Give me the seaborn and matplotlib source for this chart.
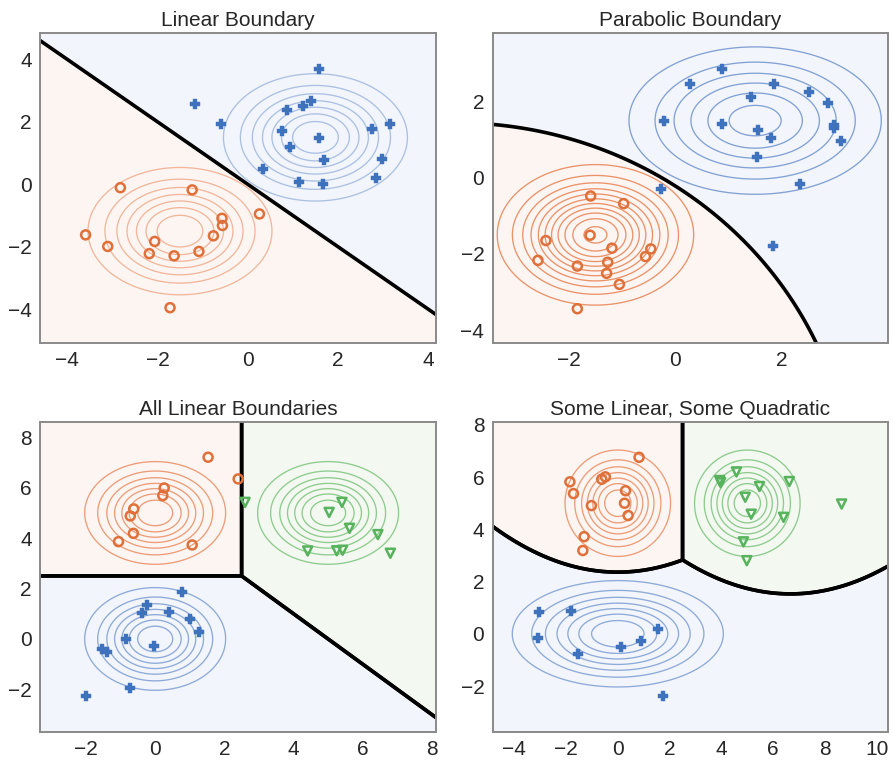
import numpy as np
import pandas as pd
import matplotlib
matplotlib.use("Agg")
import matplotlib.pyplot as plt
import seaborn as sns

# ---------------- data ----------------
titles = ["Linear Boundary", "Parabolic Boundary",
          "All Linear Boundaries", "Some Linear, Some Quadratic"]

# class-conditional Gaussians (means, diagonal variances, contour level step)
p1_means = [[1.5, 1.5], [-1.5, -1.5]]           # blue, orange
p1_vars = [[1.0, 1.0], [1.0, 1.0]]
p1_steps = [0.02, 0.02]

p2_means = [[1.5, 1.5], [-1.5, -1.5]]           # blue, orange
p2_vars = [[1.5, 1.0], [0.7, 0.7]]
p2_steps = [0.02, 0.02]

p3_means = [[0.0, 0.0], [0.0, 5.0], [5.0, 5.0]]  # blue, orange, green
p3_vars = [[1.0, 1.0], [1.0, 1.0], [1.0, 1.0]]
p3_steps = [0.02, 0.02, 0.02]

p4_means = [[0.0, 0.0], [0.0, 5.0], [5.0, 5.0]]  # blue, orange, green
p4_vars = [[4.0, 1.0], [1.0, 1.0], [1.0, 1.0]]
p4_steps = [0.01, 0.02, 0.02]

# sample points
p1_blue_x = [1.57, -1.16, -0.59, 0.86, 1.22, 1.40, 2.76, 3.15, 0.75, 1.57, 0.93, 1.68, 2.98, 0.34, 1.14, 1.66, 2.84]
p1_blue_y = [3.68, 2.57, 1.92, 2.37, 2.49, 2.67, 1.78, 1.92, 1.71, 1.48, 1.19, 0.79, 0.80, 0.49, 0.06, 0.01, 0.19]
p1_orange_x = [-2.82, -1.23, 0.26, -0.57, -0.56, -0.76, -1.08, -1.63, -2.06, -2.18, -3.10, -3.59, -1.72]
p1_orange_y = [-0.11, -0.18, -0.95, -1.09, -1.32, -1.65, -2.15, -2.29, -1.83, -2.22, -1.99, -1.62, -3.95]

p2_blue_x = [0.88, 0.28, 1.85, 2.52, 1.43, 2.87, -0.22, 0.87, 2.99, 2.99, 1.55, 1.79, 3.12, 1.54, 2.34, -0.26, 1.84]
p2_blue_y = [2.86, 2.46, 2.45, 2.25, 2.13, 1.97, 1.49, 1.40, 1.38, 1.31, 1.24, 1.04, 0.96, 0.54, -0.17, -0.29, -1.80]
p2_orange_x = [-1.59, -0.97, -1.60, -2.43, -1.19, -0.46, -0.56, -2.58, -1.84, -1.27, -1.29, -1.05, -1.84]
p2_orange_y = [-0.48, -0.68, -1.51, -1.65, -1.85, -1.87, -2.07, -2.17, -2.32, -2.22, -2.51, -2.80, -3.44]

p3_blue_x = [0.77, -0.24, -0.37, 0.40, 1.02, 1.26, -0.84, -0.02, -1.54, -1.38, -0.72, -1.99]
p3_blue_y = [1.85, 1.35, 1.04, 1.07, 0.78, 0.29, 0.00, -0.28, -0.39, -0.53, -1.93, -2.26]
p3_orange_x = [1.53, 2.40, 0.26, 0.22, -0.62, -0.72, -0.63, -1.06, 1.07]
p3_orange_y = [7.21, 6.35, 5.99, 5.69, 5.16, 4.88, 4.19, 3.86, 3.73]
p3_green_x = [2.60, 5.40, 5.03, 5.62, 6.44, 4.41, 5.25, 5.42, 6.80]
p3_green_y = [5.42, 5.42, 5.02, 4.39, 4.14, 3.49, 3.50, 3.52, 3.40]

p4_blue_x = [-3.06, -1.79, 1.55, -3.09, 0.90, 0.13, -1.53, 1.73]
p4_blue_y = [0.82, 0.86, 0.18, -0.16, -0.26, -0.52, -0.76, -2.38]
p4_orange_x = [0.82, -1.85, -1.71, -0.62, -0.48, 0.30, -1.02, 0.26, 0.40, -1.30, -1.35]
p4_orange_y = [6.76, 5.82, 5.37, 5.92, 6.01, 5.48, 4.91, 5.00, 4.53, 3.72, 3.19]
p4_green_x = [4.58, 3.93, 3.97, 6.62, 5.47, 4.92, 8.64, 5.15, 6.40, 4.85, 4.98]
p4_green_y = [6.20, 5.87, 5.79, 5.83, 5.64, 5.23, 4.97, 4.58, 4.46, 3.52, 2.80]

p1_xticks = [-4, -2, 0, 2, 4]
p1_yticks = [-4, -2, 0, 2, 4]
p2_xticks = [-2, 0, 2]
p2_yticks = [-4, -2, 0, 2]
p3_xticks = [-2, 0, 2, 4, 6, 8]
p3_yticks = [-2, 0, 2, 4, 6, 8]
p4_xticks = [-4, -2, 0, 2, 4, 6, 8, 10]
p4_yticks = [-2, 0, 2, 4, 6, 8]

# ---------------- style ----------------
sns.set_style("white")
plt.rcParams["font.family"] = ["Liberation Sans", "DejaVu Sans"]

mark_col = {"blue": "#3F72BD", "orange": "#E0703A", "green": "#57B35C"}
cont_col = {"blue": "#7C9DD2", "orange": "#E98D63", "green": "#7CC47C"}
fill_col = {"blue": "#F2F5FB", "orange": "#FDF5F1", "green": "#F3F8F1"}

panels = [
    dict(title=titles[0], means=p1_means, vars=p1_vars, steps=p1_steps, classes=["blue", "orange"],
         pts={"blue": (p1_blue_x, p1_blue_y), "orange": (p1_orange_x, p1_orange_y)},
         xlim=(-4.6, 4.17), ylim=(-5.08, 4.84), xt=p1_xticks, yt=p1_yticks, calpha=0.6,
         pos=[40 / 893, 1 - 343 / 761, 396 / 893, 310 / 761]),
    dict(title=titles[1], means=p2_means, vars=p2_vars, steps=p2_steps, classes=["blue", "orange"],
         pts={"blue": (p2_blue_x, p2_blue_y), "orange": (p2_orange_x, p2_orange_y)},
         xlim=(-3.43, 3.99), ylim=(-4.34, 3.8), xt=p2_xticks, yt=p2_yticks, calpha=0.95,
         pos=[492.7 / 893, 1 - 343 / 761, 395 / 893, 310 / 761]),
    dict(title=titles[2], means=p3_means, vars=p3_vars, steps=p3_steps, classes=["blue", "orange", "green"],
         pts={"blue": (p3_blue_x, p3_blue_y), "orange": (p3_orange_x, p3_orange_y),
              "green": (p3_green_x, p3_green_y)},
         xlim=(-3.33, 8.12), ylim=(-3.68, 8.62), xt=p3_xticks, yt=p3_yticks, calpha=0.85,
         pos=[40 / 893, 1 - 731.7 / 761, 396 / 893, 310 / 761]),
    dict(title=titles[3], means=p4_means, vars=p4_vars, steps=p4_steps, classes=["blue", "orange", "green"],
         pts={"blue": (p4_blue_x, p4_blue_y), "orange": (p4_orange_x, p4_orange_y),
              "green": (p4_green_x, p4_green_y)},
         xlim=(-4.83, 10.42), ylim=(-3.75, 8.1), xt=p4_xticks, yt=p4_yticks, calpha=0.85,
         pos=[492.7 / 893, 1 - 731.7 / 761, 395 / 893, 309.4 / 761]),
]

markers = {"blue": "P", "orange": "o", "green": "v"}

fig = plt.figure(figsize=(8.93, 7.61), dpi=100)

for P in panels:
    ax = fig.add_axes(P["pos"])
    x0, x1 = P["xlim"]
    y0, y1 = P["ylim"]
    gx = np.linspace(x0, x1, 500)
    gy = np.linspace(y0, y1, 500)
    X, Y = np.meshgrid(gx, gy)
    logp, dens = [], []
    for m, v in zip(P["means"], P["vars"]):
        q = (X - m[0]) ** 2 / v[0] + (Y - m[1]) ** 2 / v[1]
        lp = -0.5 * q - 0.5 * np.log(v[0] * v[1]) - np.log(2 * np.pi)
        logp.append(lp)
        dens.append(np.exp(lp))
    L = np.stack(logp)
    lab = np.argmax(L, axis=0)
    k = len(P["classes"])
    ax.contourf(X, Y, lab, levels=np.arange(k + 1) - 0.5,
                colors=[fill_col[c] for c in P["classes"]])
    # density contours
    for i, c in enumerate(P["classes"]):
        peak = 1.0 / (2 * np.pi * np.sqrt(P["vars"][i][0] * P["vars"][i][1]))
        step = P["steps"][i]
        lv = np.arange(step, peak, step)
        ax.contour(X, Y, dens[i], levels=lv, colors=cont_col[c], linewidths=0.95,
                   alpha=P["calpha"])
    # decision boundaries
    for i in range(k):
        others = np.max(np.delete(L, i, axis=0), axis=0)
        ax.contour(X, Y, L[i] - others, levels=[0], colors="black", linewidths=2.6)
        if k == 2:
            break
    # points
    for c in P["classes"]:
        xs, ys = P["pts"][c]
        df = pd.DataFrame({"x": xs, "y": ys})
        if c == "blue":
            sns.scatterplot(data=df, x="x", y="y", ax=ax, marker="P", s=48,
                            color=mark_col[c], edgecolor=mark_col[c], linewidth=0.3, zorder=5)
        else:
            sns.scatterplot(data=df, x="x", y="y", ax=ax, marker=markers[c], s=42,
                            facecolors="none", edgecolor=mark_col[c], linewidth=1.8, zorder=5)
    ax.set_xlim(x0, x1)
    ax.set_ylim(y0, y1)
    ax.set_xticks(P["xt"])
    ax.set_yticks(P["yt"])
    ax.set_xlabel("")
    ax.set_ylabel("")
    ax.set_title(P["title"], fontsize=15, pad=5)
    ax.tick_params(direction="in", length=4, width=0.8, color="#808080",
                   top=True, right=True, labelsize=15, pad=6)
    for s in ax.spines.values():
        s.set_visible(True)
        s.set_color("#8a8a8a")
        s.set_linewidth(1.4)

fig.savefig("out.png", dpi=100)
